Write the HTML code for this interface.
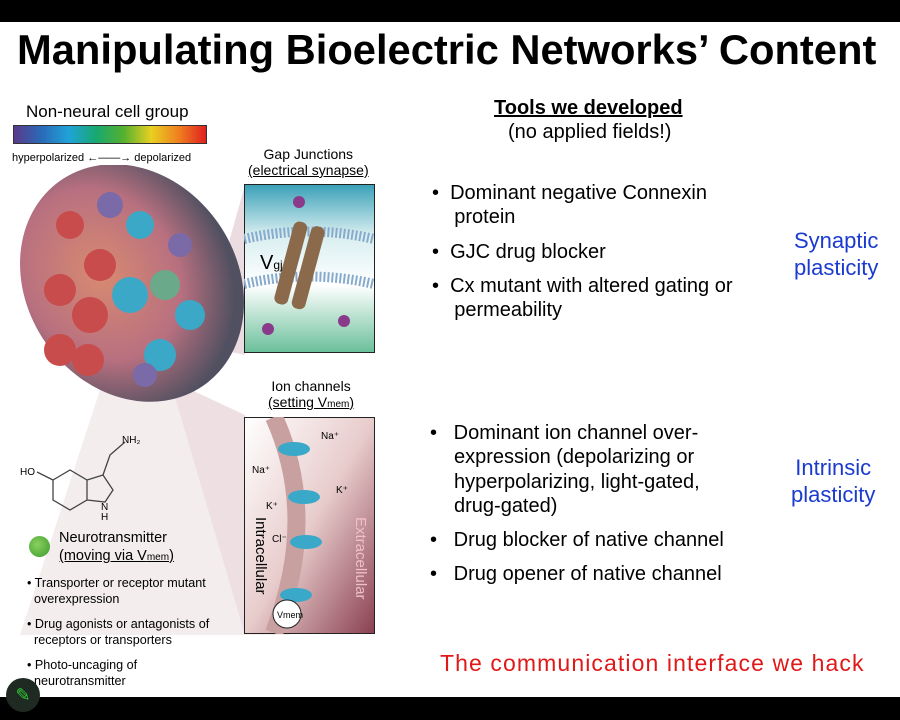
<!DOCTYPE html>
<html><head><style>
body{margin:0;width:900px;height:720px;background:#fff;position:relative;overflow:hidden;font-family:"Liberation Sans",sans-serif;color:#000}
.a{position:absolute;white-space:nowrap}
.t{font-size:20px;line-height:24px}
</style></head><body>
<div class="a" style="left:0;top:0;width:900px;height:22px;background:#000"></div>
<div class="a" style="left:0;top:697px;width:900px;height:23px;background:#000"></div>
<div class="a" style="left:17px;top:26px;font-size:41.7px;font-weight:bold">Manipulating Bioelectric Networks’ Content</div>

<div class="a" style="left:26px;top:102px;font-size:17px">Non-neural cell group</div>
<div class="a" style="left:13px;top:125px;width:192px;height:17px;border:1px solid #333;background:linear-gradient(90deg,#5a3a8a,#2a6ab8,#1fa3d8,#18a870,#55b030,#e8d020,#ef8020,#e02020)"></div>
<div class="a" style="left:12px;top:152px;font-size:11px">hyperpolarized ←——→ depolarized</div>

<svg class="a" style="left:0;top:165px" width="400" height="480">
<defs><radialGradient id="g" cx="0.4" cy="0.4" r="0.6"><stop offset="0" stop-color="#d88a70"/><stop offset="0.6" stop-color="#b87080"/><stop offset="1" stop-color="#505060"/></radialGradient></defs>
<polygon points="100,225 190,225 290,470 20,470" fill="#f3eded"/>
<polygon points="200,180 245,20 245,190" fill="#eadce0"/>
<polygon points="170,215 245,250 245,470" fill="#eedfe3"/>
<ellipse cx="132" cy="118" rx="105" ry="125" transform="rotate(-35 132 118)" fill="url(#g)"/>
<g fill="#c84c4c"><circle cx="60" cy="125" r="16"/><circle cx="90" cy="150" r="18"/><circle cx="60" cy="185" r="16"/><circle cx="88" cy="195" r="16"/><circle cx="70" cy="60" r="14"/><circle cx="100" cy="100" r="16"/></g>
<g fill="#3ca8c8"><circle cx="130" cy="130" r="18"/><circle cx="160" cy="190" r="16"/><circle cx="140" cy="60" r="14"/><circle cx="190" cy="150" r="15"/></g>
<g fill="#7a6aa8"><circle cx="110" cy="40" r="13"/><circle cx="145" cy="210" r="12"/><circle cx="180" cy="80" r="12"/></g>
<g fill="#6aaa8a"><circle cx="165" cy="120" r="15"/></g>
</svg>

<div class="a" style="left:248px;top:146px;font-size:14px;text-align:center;line-height:16px">Gap Junctions<br><span style="text-decoration:underline">(electrical synapse)</span></div>
<svg class="a" style="left:244px;top:184px" width="131" height="169">
<defs><linearGradient id="b1" x1="0" y1="0" x2="0" y2="1"><stop offset="0" stop-color="#3aa0b8"/><stop offset="0.3" stop-color="#d8eef0"/><stop offset="0.6" stop-color="#fff"/><stop offset="1" stop-color="#6abf9a"/></linearGradient></defs>
<rect x="0.5" y="0.5" width="130" height="168" fill="url(#b1)" stroke="#222"/>
<path d="M0 55 Q65 40 130 55" stroke="#8ac" stroke-width="10" fill="none" stroke-dasharray="2 2"/>
<path d="M0 100 Q65 85 130 100" stroke="#8ac" stroke-width="10" fill="none" stroke-dasharray="2 2"/>
<rect x="40" y="40" width="14" height="85" rx="6" fill="#8a6a4a" transform="rotate(15 60 80)"/>
<rect x="58" y="40" width="14" height="85" rx="6" fill="#8a6a4a" transform="rotate(15 60 80)"/>
<text x="16" y="85" font-size="20" font-family="Liberation Sans">V<tspan font-size="12">gj</tspan></text>
<circle cx="55" cy="18" r="6" fill="#8a3a8a"/><circle cx="100" cy="137" r="6" fill="#8a3a8a"/><circle cx="24" cy="145" r="6" fill="#8a3a8a"/>
</svg>

<div class="a" style="left:268px;top:378px;font-size:14px;text-align:center;line-height:16px">Ion channels<br><span style="text-decoration:underline">(setting V<span style="font-size:10px">mem</span>)</span></div>
<svg class="a" style="left:244px;top:417px" width="131" height="217">
<defs><linearGradient id="b2" x1="0" y1="0" x2="1" y2="1"><stop offset="0" stop-color="#fff"/><stop offset="0.5" stop-color="#e8cccc"/><stop offset="1" stop-color="#8a4050"/></linearGradient></defs>
<rect x="0.5" y="0.5" width="130" height="216" fill="url(#b2)" stroke="#222"/>
<path d="M30 0 Q75 100 30 216" stroke="#c8a0a0" stroke-width="18" fill="none"/>
<g fill="#3aa8c8"><ellipse cx="50" cy="32" rx="16" ry="7"/><ellipse cx="60" cy="80" rx="16" ry="7"/><ellipse cx="62" cy="125" rx="16" ry="7"/><ellipse cx="52" cy="178" rx="16" ry="7"/></g>
<circle cx="43" cy="197" r="14" fill="#fff" stroke="#222"/>
<text x="33" y="201" font-size="9" font-family="Liberation Sans">Vmem</text>
<text x="77" y="22" font-size="10" font-family="Liberation Sans">Na⁺</text>
<text x="8" y="56" font-size="10" font-family="Liberation Sans">Na⁺</text>
<text x="22" y="92" font-size="10" font-family="Liberation Sans">K⁺</text>
<text x="92" y="76" font-size="10" font-family="Liberation Sans">K⁺</text>
<text x="28" y="125" font-size="10" font-family="Liberation Sans">Cl⁻</text>
<text transform="translate(12 100) rotate(90)" font-size="15" font-family="Liberation Sans">Intracellular</text>
<text transform="translate(112 100) rotate(90)" font-size="15" fill="#f0c0c8" font-family="Liberation Sans">Extracellular</text>
</svg>

<svg class="a" style="left:15px;top:430px" width="130" height="95">
<g stroke="#444" stroke-width="1.3" fill="none"><polygon points="38,50 55,40 72,50 72,70 55,80 38,70"/><polyline points="72,50 88,45 98,60 90,72 72,70"/><polyline points="88,45 95,25 110,12"/><line x1="38" y1="50" x2="22" y2="42"/></g>
<text x="5" y="45" font-size="10" font-family="Liberation Sans">HO</text>
<text x="107" y="13" font-size="10" font-family="Liberation Sans">NH₂</text>
<text x="86" y="80" font-size="10" font-family="Liberation Sans">N</text>
<text x="86" y="90" font-size="10" font-family="Liberation Sans">H</text>
</svg>
<div class="a" style="left:29px;top:536px;width:21px;height:21px;border-radius:50%;background:radial-gradient(circle at 40% 40%,#8ad060,#3a9a2a)"></div>
<div class="a" style="left:59px;top:529px;font-size:14.5px;line-height:18px">Neurotransmitter<br><span style="text-decoration:underline">(moving via V<span style="font-size:10px">mem</span>)</span></div>
<div class="a" style="left:27px;top:575px;font-size:12.6px;line-height:16px">• Transporter or receptor mutant<br>&nbsp;&nbsp;overexpression</div>
<div class="a" style="left:27px;top:616px;font-size:12.6px;line-height:16px">• Drug agonists or antagonists of<br>&nbsp;&nbsp;receptors or transporters</div>
<div class="a" style="left:27px;top:657px;font-size:12.6px;line-height:16px">• Photo-uncaging of<br>&nbsp;&nbsp;neurotransmitter</div>
<div class="a" style="left:6px;top:678px;width:34px;height:34px;border-radius:50%;background:#1e2a22;color:#3c3;font-size:18px;text-align:center;line-height:34px">✎</div>

<div class="a t" style="left:494px;top:96px;font-weight:bold;text-decoration:underline">Tools we developed</div>
<div class="a t" style="left:508px;top:120px">(no applied fields!)</div>
<div class="a t" style="left:432px;top:181px">•&nbsp; Dominant negative Connexin<br>&nbsp;&nbsp;&nbsp; protein</div>
<div class="a t" style="left:432px;top:240px">•&nbsp; GJC drug blocker</div>
<div class="a t" style="left:432px;top:274px">•&nbsp; Cx mutant with altered gating or<br>&nbsp;&nbsp;&nbsp; permeability</div>
<div class="a" style="left:794px;top:227px;color:#1a3ad0;text-align:center;line-height:27px;font-size:22px">Synaptic<br>plasticity</div>
<div class="a t" style="left:430px;top:421px;line-height:24.5px">•&nbsp;&nbsp; Dominant ion channel over-</div>
<div class="a t" style="left:454px;top:445px;line-height:24.5px">expression (depolarizing or<br>hyperpolarizing, light-gated,<br>drug-gated)</div>
<div class="a t" style="left:430px;top:528px">•&nbsp;&nbsp; Drug blocker of native channel</div>
<div class="a t" style="left:430px;top:562px">•&nbsp;&nbsp; Drug opener of native channel</div>
<div class="a" style="left:791px;top:454px;color:#1a3ad0;line-height:27px;font-size:22px;text-align:center">Intrinsic<br>plasticity</div>
<div class="a" style="left:440px;top:650px;font-size:23px;letter-spacing:1.1px;color:#e01818">The communication interface we hack</div>
</body></html>
